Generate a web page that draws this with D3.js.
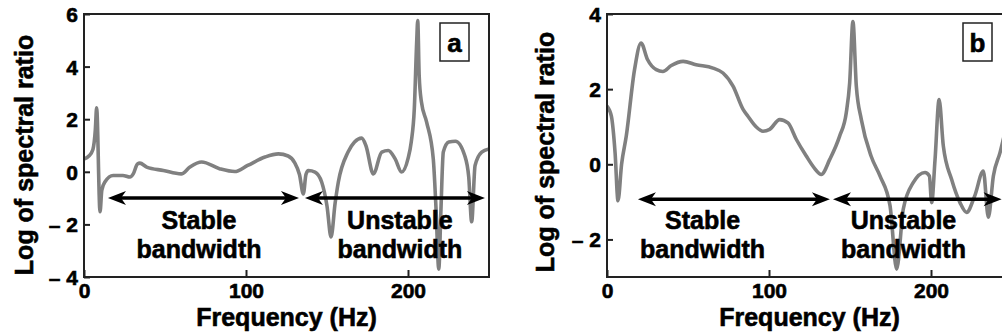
<!DOCTYPE html>
<html>
<head>
<meta charset="utf-8">
<script src="https://cdn.jsdelivr.net/npm/d3@7"></script>
<style>
  html, body { margin: 0; padding: 0; background: #fff; overflow: hidden; }
  svg { display: block; }
  text { font-family: "Liberation Sans", Arial, sans-serif; font-weight: bold; fill: #000; }
</style>
</head>
<body>
<script>
// ---------- data ----------
const freqA = [0, 3, 5.5, 7, 7.8, 9.9, 11, 13, 18, 24, 28.4, 30.4, 33, 34.5, 38.7, 49, 60, 65.4, 72.6, 84, 93, 101, 111.7, 120, 126, 130, 133, 135.4, 137, 138.5, 142.6, 146.7, 150, 152.5, 155, 157, 163, 167, 171.4, 174, 178.6, 183.8, 187.8, 192, 196, 200, 202, 203.9, 205.4, 206, 206.9, 208.3, 211.5, 215.6, 217.3, 219, 220.3, 221.8, 225.2, 229.3, 235, 237.5, 239.3, 241.4, 245.5, 250];
const ratioA = [0.49, 0.6, 0.85, 1.6, 2.43, -1.52, -0.7, -0.38, -0.14, -0.14, -0.2, -0.08, 0.3, 0.33, 0.18, 0.05, -0.08, 0.18, 0.37, 0.11, 0.01, 0.24, 0.56, 0.68, 0.6, 0.35, -0.1, -0.84, -0.1, 0.05, -0.01, -0.39, -1.3, -2.48, -1.2, -0.39, 0.75, 1.13, 1.28, 1.0, -0.08, 0.75, 0.81, 0.5, -0.01, 0.5, 1.13, 2.4, 5.0, 5.75, 3.66, 2.65, 1.89, 0.49, -1.4, -3.7, -1.5, 0.75, 1.13, 1.16, 0.62, -0.2, -1.9, 0.24, 0.75, 0.87];

const freqB = [0, 2.7, 5, 6.8, 9, 11.9, 17, 21, 25, 30.4, 34.5, 39.7, 47, 55, 65.4, 71.6, 77.8, 84, 87, 92, 96.3, 100.4, 106.6, 111.7, 116.9, 123, 128, 132.3, 137.5, 143.6, 147.7, 149.8, 151.8, 153.9, 157, 163, 168.5, 174.7, 178.8, 182.9, 189, 196.3, 199, 200.4, 202.5, 205, 207.6, 212.7, 217.9, 222, 227, 232.3, 235.4, 238.5, 242.6, 246, 250];
const ratioB = [1.55, 1.28, 0.3, -0.97, 0.0, 0.75, 2.52, 3.23, 2.79, 2.52, 2.47, 2.63, 2.74, 2.65, 2.56, 2.43, 2.08, 1.46, 1.28, 1.0, 0.88, 0.93, 1.19, 1.1, 0.66, 0.22, -0.1, -0.27, 0.13, 0.75, 1.37, 2.17, 3.8, 2.08, 1.19, 0.22, -0.31, -1.1, -2.79, -1.19, -0.49, -0.22, -0.31, -1.02, 0.13, 1.72, 0.49, -0.4, -1.02, -1.28, -0.84, -0.18, -1.41, -0.31, 0.31, 0.9, 1.4];

const xTicks = [0, 100, 200];
const yTicksA = [-4, -2, 0, 2, 4, 6];
const yTicksB = [-2, 0, 2, 4];
const yDomainA = [-4, 6];
const yDomainB = [-3, 4];
const xDomain = [0, 250];
const panelLabels = ["a", "b"];
const yTitle = "Log of spectral ratio";
const xTitle = "Frequency (Hz)";
// arrows: [from, to] in Hz, at given ratio level
const stableA = [14.8, 132.7], unstableA = [136.4, 247.5], arrowYA = -1.0;
const stableB = [19.1, 137.6], unstableB = [139.5, 243.6], arrowYB = -0.93;
const stableTextA = 71, unstableTextA = 195;
const stableTextB = 59, unstableTextB = 183;

// ---------- drawing ----------
const W = 1002, H = 335;
const svg = d3.select("body").append("svg").attr("width", W).attr("height", H);

function fmt(v) { return v < 0 ? "\u2013 " + Math.abs(v) : String(v); }

function heavy(sel) {
  return sel.attr("stroke", "#000").attr("stroke-width", 0.6).attr("paint-order", "stroke");
}

function arrowHead(g, x, y, dir) {
  const L = 18, hw = 7, notch = 5;
  const p = [
    [x, y],
    [x - dir * L, y - hw],
    [x - dir * (L - notch), y],
    [x - dir * L, y + hw]
  ];
  g.append("path").attr("d", "M" + p.map(d => d.join(",")).join("L") + "Z").attr("fill", "#000");
}

function drawArrow(g, x1, x2, y) {
  g.append("line").attr("x1", x1 + 10).attr("x2", x2 - 10).attr("y1", y).attr("y2", y)
    .attr("stroke", "#000").attr("stroke-width", 3.5);
  arrowHead(g, x1, y, -1);
  arrowHead(g, x2, y, 1);
}

function panel(opts) {
  const { left, right, top, bottom, freq, ratio, yDomain, yTicks, label,
          stable, unstable, arrowY, stableText, unstableText, yTitleX, yTitleY } = opts;
  const x = d3.scaleLinear().domain(xDomain).range([left, right]);
  const y = d3.scaleLinear().domain(yDomain).range([bottom, top]);
  const g = svg.append("g");

  const clipId = "clip" + label;
  svg.append("clipPath").attr("id", clipId).append("rect")
    .attr("x", left).attr("y", top).attr("width", right - left).attr("height", bottom - top);

  const line = d3.line().x((d, i) => x(freq[i])).y(d => y(d)).curve(d3.curveMonotoneX);
  g.append("path").datum(ratio).attr("d", line)
    .attr("fill", "none").attr("stroke", "#808080").attr("stroke-width", 3.6)
    .attr("stroke-linejoin", "round").attr("clip-path", `url(#${clipId})`);

  const xAxis = d3.axisBottom(x).tickValues(xTicks).tickSize(-7).tickPadding(6).tickFormat(d => d);
  const yAxis = d3.axisLeft(y).tickValues(yTicks).tickSize(-6).tickPadding(6).tickFormat(fmt);
  const gx = g.append("g").attr("transform", `translate(0,${bottom})`).call(xAxis);
  const gy = g.append("g").attr("transform", `translate(${left},0)`).call(yAxis);
  [gx, gy].forEach(a => {
    a.select(".domain").remove();
    a.selectAll(".tick line").attr("stroke", "#222").attr("stroke-width", 2);
    heavy(a.selectAll(".tick text").attr("font-size", 21).attr("font-weight", "bold")
      .attr("font-family", "Liberation Sans, Arial, sans-serif").attr("fill", "#000"));
  });
  gx.selectAll(".tick text").attr("dy", "0.71em");
  gy.selectAll(".tick text").attr("dy", "0.36em");

  g.append("rect").attr("x", left).attr("y", top).attr("width", right - left).attr("height", bottom - top)
    .attr("fill", "none").attr("stroke", "#222").attr("stroke-width", 2);

  drawArrow(g, x(stable[0]), x(stable[1]), y(arrowY));
  drawArrow(g, x(unstable[0]), x(unstable[1]), y(arrowY));

  const t1 = heavy(g.append("text").attr("text-anchor", "middle").attr("font-size", 25));
  t1.append("tspan").attr("x", x(stableText)).attr("y", 229).text("Stable");
  t1.append("tspan").attr("x", x(stableText)).attr("y", 258).text("bandwidth");
  const t2 = heavy(g.append("text").attr("text-anchor", "middle").attr("font-size", 25));
  t2.append("tspan").attr("x", x(unstableText)).attr("y", 229).text("Unstable");
  t2.append("tspan").attr("x", x(unstableText)).attr("y", 258).text("bandwidth");

  g.append("rect").attr("x", right - 49).attr("y", 23).attr("width", 29).attr("height", 38)
    .attr("fill", "#fff").attr("stroke", "#222").attr("stroke-width", 1.5);
  heavy(g.append("text").attr("x", right - 34.5).attr("y", 52).attr("text-anchor", "middle")
    .attr("font-size", 26).text(label));

  heavy(g.append("text").attr("transform", `translate(${yTitleX},${yTitleY}) rotate(-90)`)
    .attr("text-anchor", "middle").attr("font-size", 25).text(yTitle));
  heavy(g.append("text").attr("x", (left + right) / 2).attr("y", 326)
    .attr("text-anchor", "middle").attr("font-size", 25).text(xTitle));
}

panel({ left: 84, right: 489, top: 14, bottom: 277, freq: freqA, ratio: ratioA,
  yDomain: yDomainA, yTicks: yTicksA, label: panelLabels[0],
  stable: stableA, unstable: unstableA, arrowY: arrowYA,
  stableText: stableTextA, unstableText: unstableTextA, yTitleX: 33, yTitleY: 155 });

panel({ left: 607, right: 1012, top: 14, bottom: 277, freq: freqB, ratio: ratioB,
  yDomain: yDomainB, yTicks: yTicksB, label: panelLabels[1],
  stable: stableB, unstable: unstableB, arrowY: arrowYB,
  stableText: stableTextB, unstableText: unstableTextB, yTitleX: 554, yTitleY: 152 });
</script>
</body>
</html>
